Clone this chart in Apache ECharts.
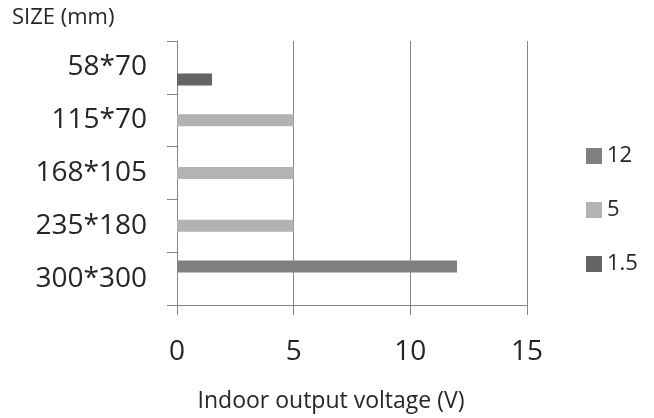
<!DOCTYPE html>
<html>
<head>
<meta charset="utf-8">
<script src="https://cdn.jsdelivr.net/npm/echarts@6/dist/echarts.min.js"></script>
<style>html,body{margin:0;padding:0;background:#fff}#c{width:654px;height:418px}</style>
</head>
<body>
<div id="c"></div>
<script>
const categories = ['58*70', '115*70', '168*105', '235*180', '300*300'];
const seriesNames = ['12', '5', '1.5'];
const values12 = ['-', '-', '-', '-', 12];
const values5 = ['-', 5, 5, 5, '-'];
const values15 = [1.5, '-', '-', '-', '-'];
const xTicks = [0, 5, 10, 15];

const chart = echarts.init(document.getElementById('c'), null, {renderer: 'canvas'});
const font = 'Open Sans';
const axisColor = '#868686';
const textColor = '#262626';
chart.setOption({
  animation: false,
  textStyle: {fontFamily: font},
  grid: {left: 177, right: 127, top: 41, bottom: 105, containLabel: false},
  legend: {
    orient: 'vertical', left: 581, top: 140,
    data: seriesNames,
    itemWidth: 16, itemHeight: 16, itemGap: 32,
    icon: 'rect',
    textStyle: {fontFamily: font, fontSize: 22, color: textColor, padding: [0, 0, 0, 0]}
  },
  xAxis: {
    type: 'value', min: xTicks[0], max: xTicks[xTicks.length - 1], interval: 5,
    name: 'Indoor output voltage (V)', nameLocation: 'middle', nameGap: 85,
    nameTextStyle: {fontFamily: font, fontSize: 23, color: textColor, padding: [0, 42, 0, 0]},
    axisLine: {show: true, lineStyle: {color: axisColor}},
    axisTick: {show: true, length: 10, lineStyle: {color: axisColor}},
    axisLabel: {fontFamily: font, fontSize: 28, color: textColor, margin: 33},
    splitLine: {show: true, lineStyle: {color: axisColor}}
  },
  yAxis: {
    type: 'category', data: categories, inverse: true,
    name: 'SIZE (mm)', nameLocation: 'start', nameGap: 12,
    nameTextStyle: {fontFamily: font, fontSize: 22, color: textColor, align: 'left', verticalAlign: 'bottom', padding: [0, 0, 0, -165]},
    axisLine: {show: true, lineStyle: {color: axisColor}},
    axisTick: {show: true, length: 10, lineStyle: {color: axisColor}},
    axisLabel: {fontFamily: font, fontSize: 28, color: textColor, margin: 30},
    splitLine: {show: false}
  },
  series: [
    {name: '12', type: 'bar', data: values12, barWidth: 12, barGap: '0%', itemStyle: {color: '#808080'}},
    {name: '5', type: 'bar', data: values5, barWidth: 12, barGap: '0%', itemStyle: {color: '#b3b3b3'}},
    {name: '1.5', type: 'bar', data: values15, barWidth: 12, barGap: '0%', itemStyle: {color: '#646464'}}
  ]
});
</script>
</body>
</html>
